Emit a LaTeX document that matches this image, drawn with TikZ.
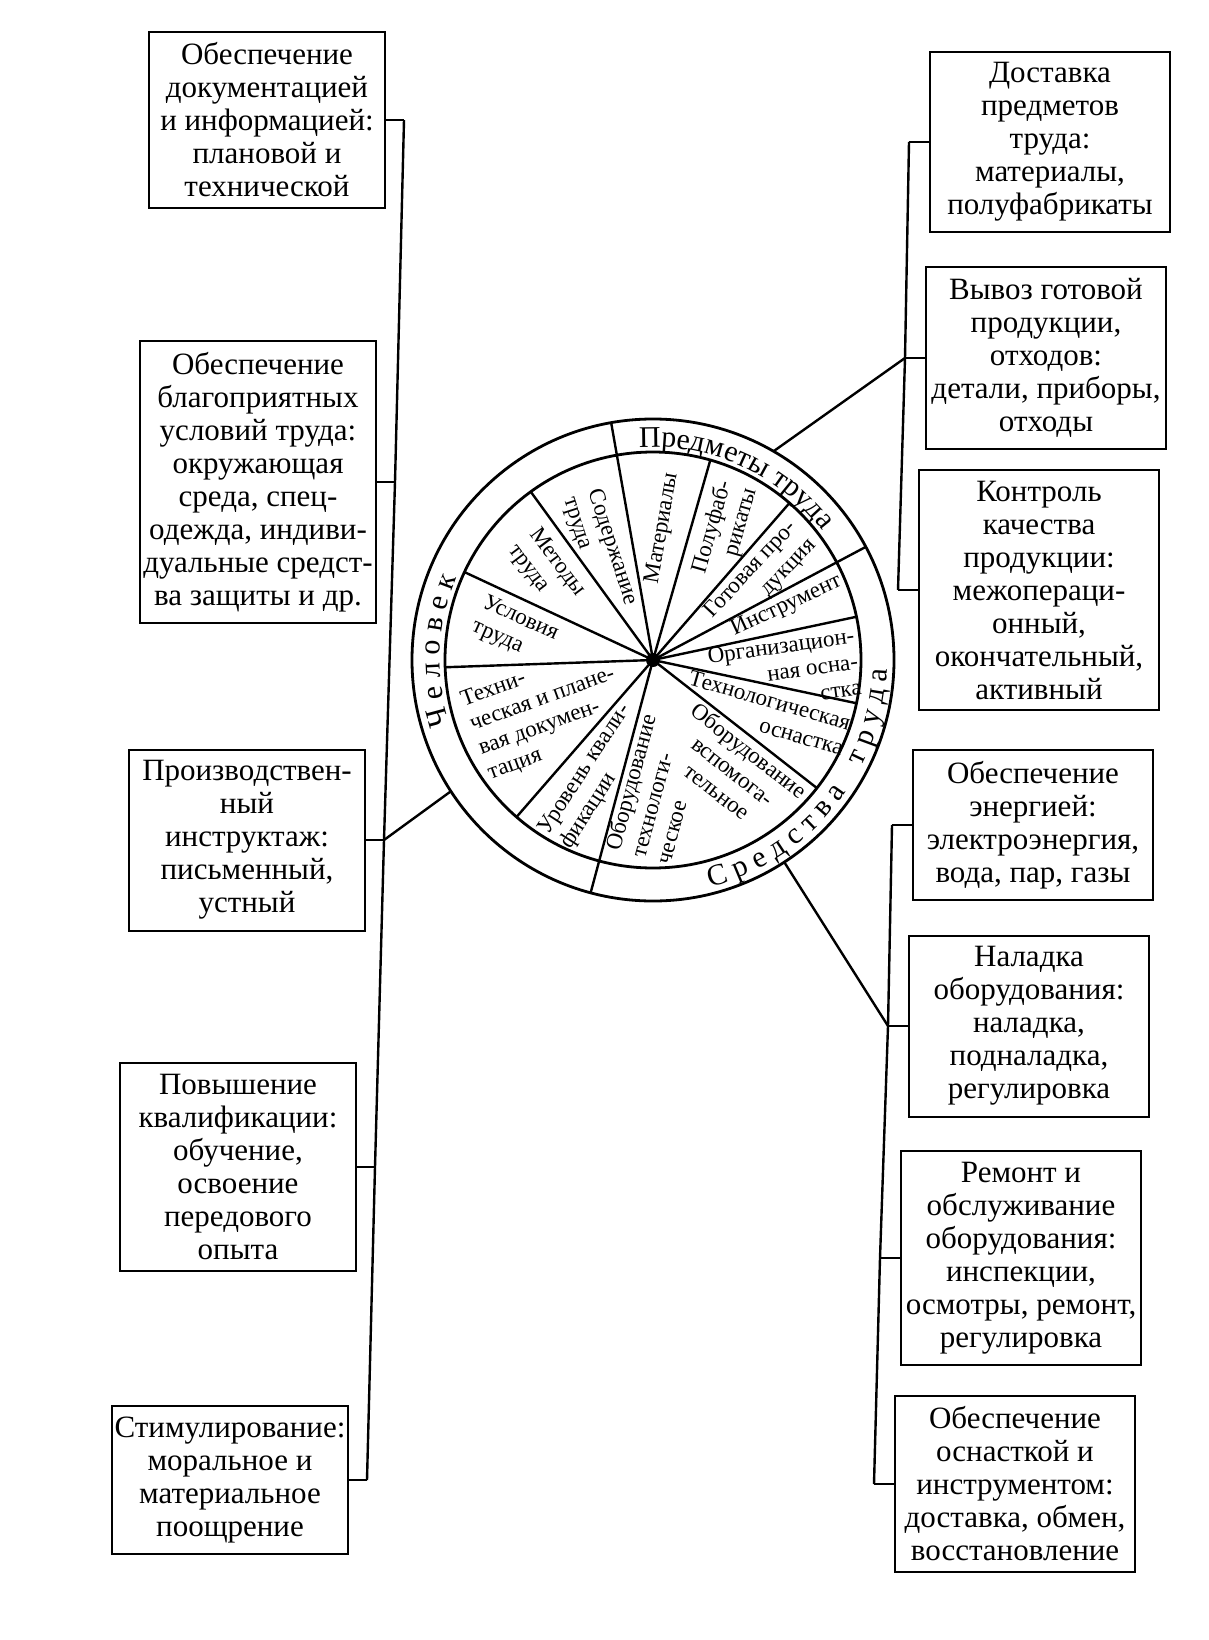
\documentclass[tikz,border=0pt]{standalone}
\usepackage{fontspec}
\setmainfont{Liberation Serif}
\usetikzlibrary{calc,decorations.text}
\newcommand\ringfont{\fontsize{30}{30}\selectfont}

\begin{document}
\begin{tikzpicture}[x=1pt,y=1pt,
    box/.style={draw,line width=2pt,align=center,inner xsep=2pt,inner ysep=11pt,font=\fontsize{31}{33}\selectfont},
    lbox/.style={box,minimum width=236pt},
    rbox/.style={box,minimum width=240pt},
    seg/.style={inner sep=0pt,font=\fontsize{23}{26}\selectfont},
    link/.style={line width=2.4pt},
    ring/.style={decorate,decoration={text along path,text align=center,text={#1}}}]
\useasboundingbox (0,0) rectangle (1208,-1640);
\coordinate (c) at (653,-660);

\node[lbox] (L1) at (267,-120) {Обеспечение\\документацией\\и информацией:\\плановой и\\технической};
\node[lbox] (L2) at (258,-482) {Обеспечение\\благоприятных\\условий труда:\\окружающая\\среда, спец-\\одежда, индиви-\\дуальные средст-\\ва защиты и др.};
\node[lbox] (L3) at (247,-840) {Производствен-\\ный\\инструктаж:\\письменный,\\устный};
\node[lbox] (L4) at (238,-1167) {Повышение\\квалификации:\\обучение,\\освоение\\передового\\опыта};
\node[lbox] (L5) at (230,-1480) {Стимулирование:\\моральное и\\материальное\\поощрение};

\node[rbox] (R1) at (1050,-142) {Доставка\\предметов\\труда:\\материалы,\\полуфабрикаты};
\node[rbox] (R2) at (1046,-358) {Вывоз готовой\\продукции,\\отходов:\\детали, приборы,\\отходы};
\node[rbox] (R3) at (1039,-590) {Контроль\\качества\\продукции:\\межопераци-\\онный,\\окончательный,\\активный};
\node[rbox] (R4) at (1033,-825) {Обеспечение\\энергией:\\электроэнергия,\\вода, пар, газы};
\node[rbox] (R5) at (1029,-1026) {Наладка\\оборудования:\\наладка,\\подналадка,\\регулировка};
\node[rbox] (R6) at (1021,-1258) {Ремонт и\\обслуживание\\оборудования:\\инспекции,\\осмотры, ремонт,\\регулировка};
\node[rbox] (R7) at (1015,-1484) {Обеспечение\\оснасткой и\\инструментом:\\доставка, обмен,\\восстановление};

\node[circle,draw,line width=2.8pt,minimum size=482pt,inner sep=0pt,outer sep=0pt] (wheel) at (c) {};
\node[circle,draw,line width=2.8pt,minimum size=416pt,inner sep=0pt,outer sep=0pt] (disc) at (c) {};
\foreach \a in {12,49,74,126,155,182,229,322,348} \draw[link] (c) -- (disc.\a);
\foreach \a in {28,100,255} \draw[link] (c) -- (wheel.\a);
\fill (c) circle (7);

\path[ring={|\ringfont|Ч е л о в е к}] ($(c)+(215:213)$) arc[start angle=215,end angle=140,radius=213];
\path[ring={|\ringfont|Предметы труда}] ($(c)+(105:213)$) arc[start angle=105,end angle=26,radius=213];
\path[ring={|\ringfont|С р е д с т в а {\kern14pt} т р у д а}] ($(c)+(-84:234)$) arc[start angle=-84,end angle=6,radius=234];

\node[seg,align=left,rotate=-72] (sod) at ($(c)+(116:121)$) {Содержание\\труда};
\node[seg,align=left,rotate=-53] (met) at ($(c)+(140:139)$) {Методы\\труда};
\node[seg,align=left,rotate=-24] (usl) at ($(c)+(168:141)$) {Условия\\труда};
\node[seg,align=left,rotate=20] (doc) at ($(c)+(206:118)$) {Техни-\\ческая и плане-\\вая докумен-\\тация};
\node[seg,align=left,rotate=57] (kval) at ($(c)+(244:130)$) {Уровень квали-\\фикации};
\node[seg,rotate=80] (mat) at ($(c)+(86:132)$) {Материалы};
\node[seg,align=right,rotate=74] (pf) at ($(c)+(61:148)$) {Полуфаб-\\рикаты};
\node[seg,align=right,rotate=47] (gp) at ($(c)+(37:135)$) {Готовая про-\\дукция};
\node[seg,rotate=25] (ins) at ($(c)+(22:144)$) {Инструмент};
\node[seg,align=right,rotate=8] (org) at ($(c)+(-5:132)$) {Организацион-\\ная осна-\\стка};
\node[seg,align=right,rotate=-16] (tos) at ($(c)+(-25:125)$) {Технологическая\\оснастка};
\node[seg,align=center,rotate=-38] (ovs) at ($(c)+(-54:137)$) {Оборудование\\вспомога-\\тельное};
\node[seg,align=left,rotate=75] (oth) at ($(c)+(-89:129)$) {Оборудование\\технологи-\\ческое};

\foreach \b in {L1,L2,L3,L4,L5} \draw[link] (\b.east) -- ++(18,0) coordinate (\b-s);
\foreach \b in {R1,R2,R3,R4,R5,R6,R7} \draw[link] (\b.west) -- ++(-20,0) coordinate (\b-s);
\draw[link] (L1-s) -- (L2-s) -- (L3-s) -- (L4-s) -- (L5-s);
\draw[link] (R1-s) -- (R2-s) -- (R3-s);
\draw[link] (R4-s) -- (R5-s) -- (R6-s) -- (R7-s);
\draw[link] (wheel.213) -- (L3-s);
\draw[link] (wheel.60) -- (R2-s);
\draw[link] (wheel.303) -- (R5-s);
\end{tikzpicture}
\end{document}
